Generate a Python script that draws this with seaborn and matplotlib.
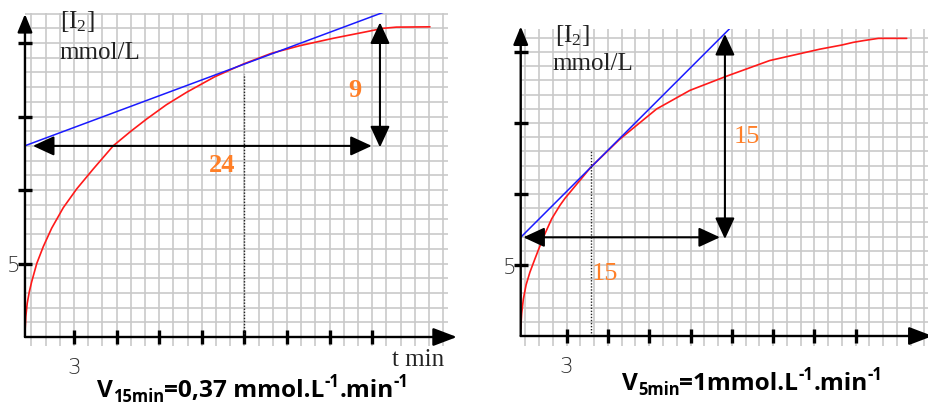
import matplotlib
matplotlib.use("Agg")
import matplotlib.pyplot as plt
import pandas as pd
import seaborn as sns
from matplotlib.ticker import MultipleLocator

# --- graphe de gauche : [I2] = f(t), tangente a t = 15 min ---
t_15 = [-0.46, -0.40, -0.30, -0.15, 0.01, 0.37, 0.83, 1.42, 2.24, 3.18, 4.35,
        5.76, 7.0, 8.11, 9.5, 10.93, 12.9, 14.92, 16.9, 18.91, 21.25, 23.6,
        24.77, 25.7, 28.06]
c_15 = [0.3, 1.4, 2.3, 3.1, 3.75, 5.0, 6.15, 7.4, 8.8, 10.07, 11.43,
        13.01, 14.0, 14.83, 15.8, 16.65, 17.7, 18.57, 19.3, 19.82, 20.32, 20.77,
        21.0, 21.08, 21.1]
tan15_t = [-0.46, 24.9]
tan15_c = [13.01, 22.13]
dot15_t, dot15_c = 14.99, 17.9
h15_t, h15_c = [0.1, 23.96], 13.0
v15_t, v15_c = 24.54, [12.9, 21.4]

# --- graphe de droite : tangente a t = 5 min ---
t_5 = [-0.34, -0.27, -0.15, 0.05, 0.33, 0.7, 1.06, 1.42, 1.91, 2.51, 2.88,
       4.75, 6.87, 9.54, 11.96, 14.63, 17.76, 21.4, 22.99, 23.83, 24.56,
       25.65, 27.71]
c_5 = [0.49, 1.6, 2.6, 3.6, 4.5, 5.45, 6.35, 7.2, 8.25, 9.2, 9.7,
       11.88, 13.87, 15.99, 17.3, 18.3, 19.4, 20.2, 20.49, 20.68, 20.8,
       20.96, 20.96]
tan5_t = [-0.34, 14.87]
tan5_c = [6.95, 21.67]
dot5_t, dot5_c = 4.75, 13.05
h5_t, h5_c = [-0.15, 14.14], 6.95
v5_t, v5_c = 14.5, [6.83, 21.27]

x_ticks = [3, 6, 9, 12, 15, 18, 21, 24]
x_labels = ["3", "", "", "", "", "", "", ""]
y_ticks = [5, 10, 15, 20]
y_labels = ["5", "", "", ""]

W, H = 929, 414
ORANGE = "#FF7F27"
SERIF = ["Liberation Serif", "DejaVu Serif"]
CAP_FONT = ["Open Sans", "DejaVu Sans"]

sns.set_theme(style="white")
plt.rcParams["font.family"] = SERIF


def rect(x0px, sx, y0px, sy, xlim, ylim):
    left = (x0px + xlim[0] * sx) / W
    right = (x0px + xlim[1] * sx) / W
    bottom = 1 - (y0px - ylim[0] * sy) / H
    top = 1 - (y0px - ylim[1] * sy) / H
    return [left, bottom, right - left, top - bottom]


def arrow(ax, start, end, style="<|-|>", hl=1.3, hw=0.6, lw=1.5):
    ax.annotate("", xy=end, xytext=start, annotation_clip=False,
                arrowprops=dict(arrowstyle=f"{style},head_length={hl},head_width={hw}",
                                color="black", lw=lw, shrinkA=0, shrinkB=0,
                                mutation_scale=10))


def panel(ax, t, c, tan_t, tan_c, dot, harr, varr, xlim, ylim, x_tip, y_tip):
    ax.set_xlim(*xlim)
    ax.set_ylim(*ylim)
    ax.xaxis.set_minor_locator(MultipleLocator(1))
    ax.yaxis.set_minor_locator(MultipleLocator(1))
    ax.grid(True, which="both", color="#c9c9c9", lw=1.2)
    ax.set_axisbelow(True)
    for s in ax.spines.values():
        s.set_visible(False)
    ax.spines["bottom"].set_position(("data", 0))

    ax.set_xticks(x_ticks, x_labels)
    ax.set_yticks(y_ticks, y_labels)
    ax.tick_params(which="major", bottom=True, left=True, direction="inout",
                   length=9.5, width=2.4, color="black", labelsize=15.5,
                   labelcolor="#333333", labelfontfamily="DejaVu Sans")
    ax.tick_params(axis="x", which="major", pad=10)
    ax.tick_params(axis="y", which="major", pad=-1.5)
    ax.tick_params(which="minor", length=0)
    for lab in ax.get_xticklabels() + ax.get_yticklabels():
        lab.set_fontweight("light")

    # axes fléchés
    arrow(ax, (xlim[0], 0), (x_tip, 0), style="-|>", hl=1.45, hw=0.55, lw=1.7)
    arrow(ax, (xlim[0], 0), (xlim[0], y_tip), style="-|>", hl=1.1, hw=0.45, lw=1.7)

    sns.lineplot(x=t, y=c, ax=ax, color="#ff1a1a", lw=1.2, sort=False,
                 estimator=None)
    sns.lineplot(x=tan_t, y=tan_c, ax=ax, color="#1a1aff", lw=1.1, sort=False,
                 estimator=None)
    ax.plot([dot[0], dot[0]], [0, dot[1]], ls=(0, (1, 1.2)), color="#222222", lw=1)

    arrow(ax, (harr[0][0], harr[1]), (harr[0][1], harr[1]))
    arrow(ax, (varr[0], varr[1][0]), (varr[0], varr[1][1]))
    ax.set_xlabel("")
    ax.set_ylabel("")


def caption(ax, x, y_base, parts):
    prev = None
    for txt, kind in parts:
        size = 17.6 if kind == "big" else 12
        dy = {"big": 0, "sub": -5, "sup": 10}[kind]
        if prev is None:
            xy, coords = (x, y_base + dy), "figure pixels"
        else:
            xy, coords = (1, y_base + dy), (prev, "figure pixels")
        prev = ax.annotate(txt, xy=xy, xycoords=coords, ha="left", va="baseline",
                           fontsize=size, fontweight="bold", family=CAP_FONT,
                           color="black", annotation_clip=False)


fig = plt.figure(figsize=(W / 100, H / 100), dpi=100)

lim1 = ((-0.46, 29.3), (-0.6, 22.05))
lim2 = ((-0.34, 29.4), (-0.7, 21.6))
ax1 = fig.add_axes(rect(31.5, 14.2, 338, 14.7, *lim1))
ax2 = fig.add_axes(rect(525.4, 13.76, 337, 14.2, *lim2))

panel(ax1, t_15, c_15, tan15_t, tan15_c, (dot15_t, dot15_c),
      (h15_t, h15_c), (v15_t, v15_c), *lim1, x_tip=29.96, y_tip=21.97)
panel(ax2, t_5, c_5, tan5_t, tan5_c, (dot5_t, dot5_c),
      (h5_t, h5_c), (v5_t, v5_c), *lim2, x_tip=29.6, y_tip=21.8)

# textes des axes
lab_kw = dict(ha="left", va="baseline", fontsize=18, color="#222222", clip_on=False)
ax1.text(2.0, 21.09, r"[$\mathregular{I_2}$]", **lab_kw)
ax1.text(2.0, 18.95, "mmol/L", **lab_kw)
ax1.text(25.4, -1.9, "t min", **lab_kw)
ax2.text(2.15, 20.8, r"[$\mathregular{I_2}$]", **lab_kw)
ax2.text(2.0, 18.8, "mmol/L", **lab_kw)

# valeurs mesurées
num_kw = dict(ha="center", va="baseline", fontsize=19, color=ORANGE, clip_on=False)
ax1.text(22.78, 16.4, "9", fontweight="bold", **num_kw)
ax1.text(13.42, 11.29, "24", fontweight="bold", **num_kw)
ax2.text(16.07, 13.66, "15", **num_kw)
ax2.text(5.78, 4.01, "15", **num_kw)

caption(ax1, 97, H - 397, [("V", "big"), ("15min", "sub"), ("=0,37 mmol.L", "big"),
                           ("-1", "sup"), (".min", "big"), ("-1", "sup")])
caption(ax2, 622, H - 390, [("V", "big"), ("5min", "sub"), ("=1mmol.L", "big"),
                            ("-1", "sup"), (".min", "big"), ("-1", "sup")])

fig.savefig("out.png", dpi=100)
